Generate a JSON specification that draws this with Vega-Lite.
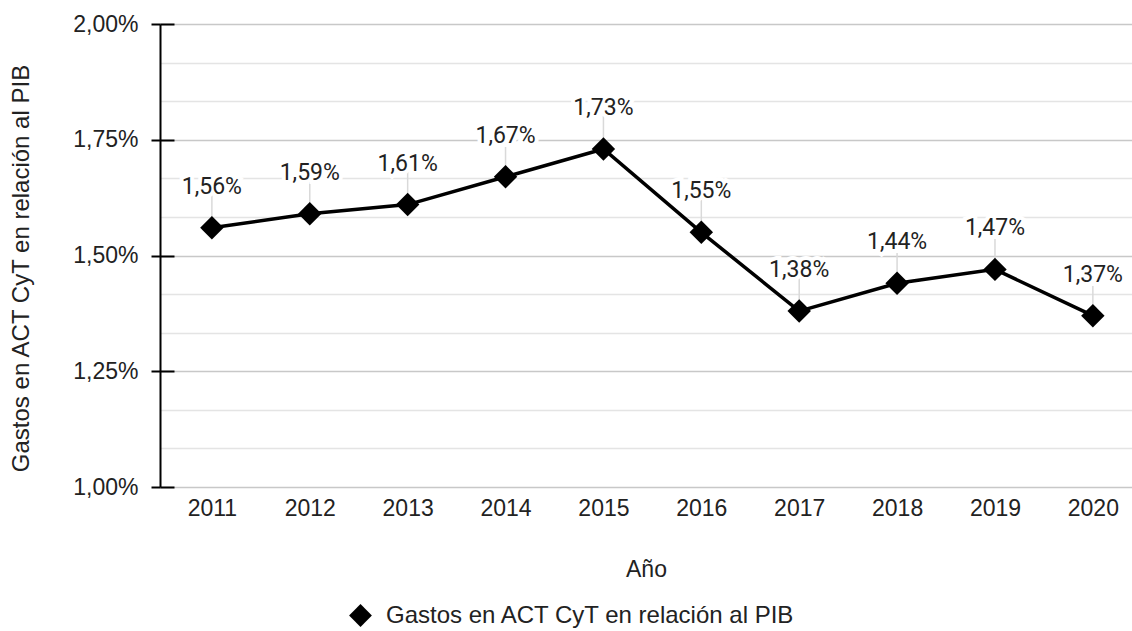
{
  "$schema": "https://vega.github.io/schema/vega-lite/v6.json",
  "width": 972,
  "height": 463,
  "autosize": {"type": "none"},
  "padding": {"left": 160, "top": 24, "right": 0, "bottom": 144},
  "background": "white",
  "config": {
    "view": {"stroke": null},
    "locale": {"number": {"decimal": ",", "thousands": ".", "grouping": [3], "currency": ["", " €"]}},
    "font": "Liberation Sans"
  },
  "data": {
    "values": [
      {"anio": "2011", "valor": 0.0156, "serie": "Gastos en ACT CyT en relación al PIB"},
      {"anio": "2012", "valor": 0.0159, "serie": "Gastos en ACT CyT en relación al PIB"},
      {"anio": "2013", "valor": 0.0161, "serie": "Gastos en ACT CyT en relación al PIB"},
      {"anio": "2014", "valor": 0.0167, "serie": "Gastos en ACT CyT en relación al PIB"},
      {"anio": "2015", "valor": 0.0173, "serie": "Gastos en ACT CyT en relación al PIB"},
      {"anio": "2016", "valor": 0.0155, "serie": "Gastos en ACT CyT en relación al PIB"},
      {"anio": "2017", "valor": 0.0138, "serie": "Gastos en ACT CyT en relación al PIB"},
      {"anio": "2018", "valor": 0.0144, "serie": "Gastos en ACT CyT en relación al PIB"},
      {"anio": "2019", "valor": 0.0147, "serie": "Gastos en ACT CyT en relación al PIB"},
      {"anio": "2020", "valor": 0.0137, "serie": "Gastos en ACT CyT en relación al PIB"}
    ]
  },
  "encoding": {
    "x": {
      "field": "anio",
      "type": "ordinal",
      "scale": {"type": "point", "padding": 0.465, "align": 0.57},
      "axis": {
        "title": "Año",
        "labelAngle": 0,
        "domain": false,
        "ticks": false,
        "grid": false,
        "labelFont": "Liberation Sans",
        "labelFontSize": 23,
        "labelColor": "#222222",
        "labelPadding": 10,
        "titleFont": "Liberation Sans",
        "titleFontSize": 23,
        "titleFontWeight": "normal",
        "titleColor": "#222222",
        "titlePadding": 38
      }
    }
  },
  "resolve": {"axis": {"y": "independent"}},
  "layer": [
    {
      "mark": {"type": "tick", "orient": "vertical", "size": 32, "thickness": 1.5, "color": "#d9d9d9", "yOffset": -17, "opacity": 1},
      "encoding": {
        "y": {
          "field": "valor",
          "type": "quantitative",
          "scale": {"domain": [0.01, 0.02], "nice": false, "zero": false},
          "axis": {
            "orient": "left",
            "domain": false,
            "labels": false,
            "grid": false,
            "ticks": true,
            "tickSize": -14,
            "tickWidth": 2,
            "tickColor": "black",
            "values": [0.01, 0.0125, 0.015, 0.0175, 0.02],
            "title": null
          }
        }
      }
    },
    {
      "mark": {"type": "line", "color": "black", "strokeWidth": 3.5},
      "encoding": {
        "y": {
          "field": "valor",
          "type": "quantitative",
          "scale": {"domain": [0.01, 0.02], "nice": false, "zero": false},
          "axis": {
            "orient": "left",
            "title": "Gastos en ACT CyT en relación al PIB",
            "titleFont": "Liberation Sans",
            "titleFontSize": 24,
            "titleFontWeight": "normal",
            "titleColor": "#222222",
            "titlePadding": 39,
            "titleY": 244,
            "format": ".2%",
            "values": [0.01, 0.010833333, 0.011666667, 0.0125, 0.013333333, 0.014166667, 0.015, 0.015833333, 0.016666667, 0.0175, 0.018333333, 0.019166667, 0.02],
            "labelExpr": "abs(datum.value*400 - round(datum.value*400)) < 0.01 ? datum.label : ''",
            "labelFont": "Liberation Sans",
            "labelFontSize": 23,
            "labelColor": "#222222",
            "labelPadding": 13,
            "domain": true,
            "domainColor": "black",
            "domainWidth": 2,
            "ticks": true,
            "tickSize": 9,
            "tickWidth": 2,
            "tickColor": "black",
            "tickOpacity": {"condition": {"test": "abs(datum.value*400 - round(datum.value*400)) < 0.01", "value": 1}, "value": 0},
            "grid": true,
            "gridWidth": 1.5,
            "gridColor": {"condition": {"test": "abs(datum.value*400 - round(datum.value*400)) < 0.01", "value": "#c8c8c8"}, "value": "#e4e4e4"}
          }
        }
      }
    },
    {
      "mark": {"type": "point", "filled": true, "color": "black", "size": 550, "opacity": 1},
      "encoding": {
        "y": {
          "field": "valor",
          "type": "quantitative",
          "scale": {"domain": [0.01, 0.02], "nice": false, "zero": false},
          "axis": null
        },
        "shape": {
          "field": "serie",
          "type": "nominal",
          "scale": {"range": ["diamond"]},
          "legend": {
            "orient": "none",
            "legendX": 188,
            "legendY": 579,
            "title": null,
            "padding": 0,
            "symbolType": "diamond",
            "symbolSize": 520,
            "symbolFillColor": "black",
            "symbolStrokeColor": "black",
            "labelFont": "Liberation Sans",
            "labelFontSize": 24,
            "labelColor": "#222222",
            "labelOffset": 13,
            "labelLimit": 1000
          }
        }
      }
    },
    {
      "mark": {"type": "text", "font": "Roboto", "fontSize": 23, "dy": -34, "baseline": "alphabetic", "color": "white", "stroke": "white", "strokeWidth": 8},
      "encoding": {
        "y": {
          "field": "valor",
          "type": "quantitative",
          "scale": {"domain": [0.01, 0.02], "nice": false, "zero": false},
          "axis": null
        },
        "text": {"field": "valor", "type": "quantitative", "format": ".2%"}
      }
    },
    {
      "mark": {"type": "text", "font": "Roboto", "fontSize": 23, "dy": -34, "baseline": "alphabetic", "color": "#222222"},
      "encoding": {
        "y": {
          "field": "valor",
          "type": "quantitative",
          "scale": {"domain": [0.01, 0.02], "nice": false, "zero": false},
          "axis": null
        },
        "text": {"field": "valor", "type": "quantitative", "format": ".2%"}
      }
    }
  ]
}
